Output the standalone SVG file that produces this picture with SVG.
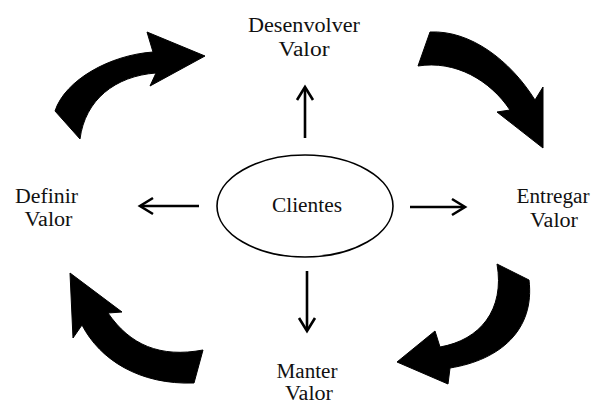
<svg xmlns="http://www.w3.org/2000/svg" width="594" height="403" viewBox="0 0 594 403">
<style>
.lbl{font-family:"Liberation Serif","Times New Roman",serif;font-size:20px;fill:#111;text-anchor:middle}
.big{fill:#000;stroke:#000;stroke-width:1;stroke-linejoin:round}
.ln{fill:none;stroke:#000;stroke-width:2.6}
</style>
<rect width="594" height="403" fill="#fff"/>
<g id="cycle-arrows">
<path class="big" d="M55,111 C65,80 110,55 153,52 L147,32 L205,56 L150,86 L156,73 C115,76 85,100 80,139 Z"/>
<path class="big" d="M430,32 C470,30 510,60 535,100 L543,87 L543,148 L497,112 L510,110 C490,80 455,60 418,66 Z"/>
<path class="big" d="M529,280 C535,330 500,360 450,368 L448,384 L397,362 L435,331 L440,347 C480,340 505,310 497,264 Z"/>
<path class="big" d="M70,273 L122,312 L108,313 C130,345 160,358 203,350 L194,383 C140,385 100,360 82,325 L73,338 Z"/>
</g>
<g id="connectors">
<line class="ln" x1="305" y1="138" x2="305" y2="88"/>
<polyline class="ln" points="297,100 305,87 313,100"/>
<line class="ln" x1="199" y1="206" x2="141" y2="206"/>
<polyline class="ln" points="153,198 140,206 153,214"/>
<line class="ln" x1="410" y1="207" x2="464" y2="207"/>
<polyline class="ln" points="452,199 465,207 452,215"/>
<line class="ln" x1="307" y1="271" x2="307" y2="330"/>
<polyline class="ln" points="299,318 307,331 315,318"/>
</g>
<g id="clientes">
<ellipse cx="305" cy="206" rx="88" ry="51" fill="#fff" stroke="#000" stroke-width="1.6"/>
<text class="lbl" x="307" y="212" textLength="70" lengthAdjust="spacingAndGlyphs">Clientes</text>
</g>
<g id="desenvolver">
<text class="lbl" x="304" y="32" textLength="112" lengthAdjust="spacingAndGlyphs">Desenvolver</text>
<text class="lbl" x="304" y="56" textLength="51" lengthAdjust="spacingAndGlyphs">Valor</text>
</g>
<g id="definir">
<text class="lbl" x="46.5" y="203" textLength="63" lengthAdjust="spacingAndGlyphs">Definir</text>
<text class="lbl" x="48.5" y="226" textLength="48" lengthAdjust="spacingAndGlyphs">Valor</text>
</g>
<g id="entregar">
<text class="lbl" x="553" y="203" textLength="73" lengthAdjust="spacingAndGlyphs">Entregar</text>
<text class="lbl" x="554" y="227" textLength="48" lengthAdjust="spacingAndGlyphs">Valor</text>
</g>
<g id="manter">
<text class="lbl" x="307" y="378" textLength="61" lengthAdjust="spacingAndGlyphs">Manter</text>
<text class="lbl" x="309" y="400" textLength="48" lengthAdjust="spacingAndGlyphs">Valor</text>
</g>
</svg>
